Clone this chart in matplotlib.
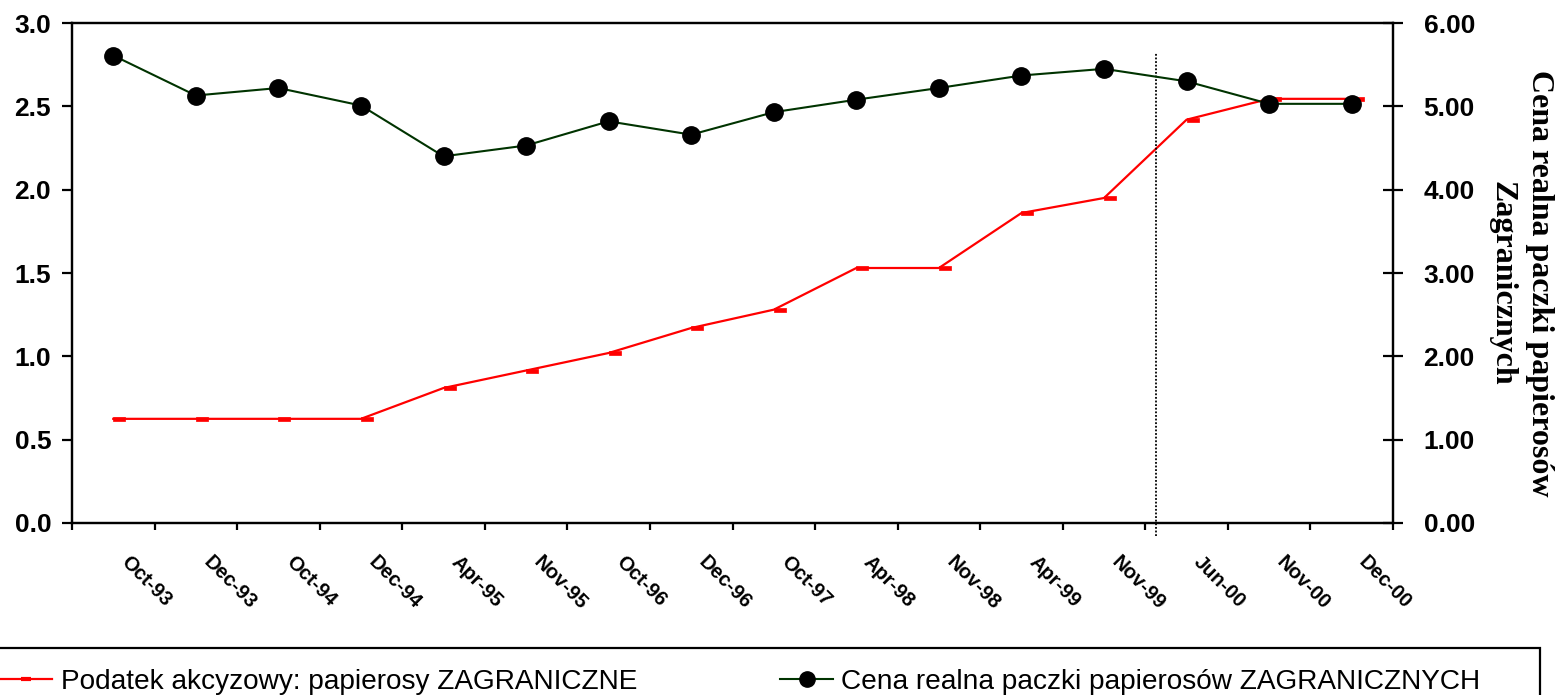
import matplotlib.pyplot as plt
from matplotlib.lines import Line2D
from matplotlib.patches import Rectangle
from matplotlib.path import Path
from matplotlib.transforms import ScaledTranslation

# daty (kategorie na osi X)
months = ['Oct-93', 'Dec-93', 'Oct-94', 'Dec-94', 'Apr-95', 'Nov-95', 'Oct-96', 'Dec-96',
          'Oct-97', 'Apr-98', 'Nov-98', 'Apr-99', 'Nov-99', 'Jun-00', 'Nov-00', 'Dec-00']

# podatek akcyzowy - lewa os
excise = [0.625, 0.625, 0.625, 0.625, 0.81, 0.915, 1.02, 1.17,
          1.28, 1.53, 1.53, 1.86, 1.95, 2.42, 2.545, 2.545]

# cena realna paczki - prawa os
price = [5.61, 5.13, 5.22, 5.01, 4.40, 4.53, 4.82, 4.66,
         4.93, 5.08, 5.22, 5.37, 5.45, 5.30, 5.03, 5.03]

left_ticks = [0.0, 0.5, 1.0, 1.5, 2.0, 2.5, 3.0]
right_ticks = [0, 1, 2, 3, 4, 5, 6]
break_pos = 12.63

label_1 = 'Podatek akcyzowy: papierosy ZAGRANICZNE'
label_2 = 'Cena realna paczki papierosów ZAGRANICZNYCH'
right_title = 'Cena realna paczki papierosów\nZagranicznych'

RED = '#ff0000'
GREEN = '#003300'
SANS = 'Liberation Sans'
SERIF = 'Liberation Serif'

# marker czerwony - kreska przesunieta w prawo od punktu
dash = Path([(0, -0.15), (1, -0.15), (1, 0.15), (0, 0.15), (0, -0.15)],
            [Path.MOVETO, Path.LINETO, Path.LINETO, Path.LINETO, Path.CLOSEPOLY])

fig = plt.figure(figsize=(15.62, 6.95), dpi=100)
ax = fig.add_axes([72 / 1562, 1 - 523 / 695, (1393 - 72) / 1562, 500 / 695])
ax2 = ax.twinx()

x = list(range(len(months)))
ax.plot(x, excise, color=RED, lw=1.6, marker=dash, markersize=17,
        markerfacecolor=RED, markeredgecolor=RED, markeredgewidth=0.5)
ax2.plot(x, price, color=GREEN, lw=1.5, marker='o', markersize=12.5,
         markerfacecolor='black', markeredgecolor='black')

ax.plot([break_pos, break_pos], [-0.075, 2.82], color='black', lw=1.3,
        ls=(0, (1, 1)), clip_on=False, zorder=5)

ax.set_xlim(-0.5, len(months) - 0.5)
ax.set_ylim(0, 3)
ax2.set_ylim(0, 6)

# osie
for a in (ax, ax2):
    for s in a.spines.values():
        s.set_linewidth(1.6)
        s.set_color('black')

ax.set_xticks([i - 0.5 for i in range(len(months) + 1)])
ax.set_xticklabels([])
ax.tick_params(axis='x', which='major', direction='out', length=5, width=1.6)
ax.set_xticks(x, minor=True)
ax.set_xticklabels(months, minor=True)
ax.tick_params(axis='x', which='minor', length=0, pad=21)
offset = ScaledTranslation(0.17, 0, fig.dpi_scale_trans)
for lab in ax.get_xticklabels(minor=True):
    lab.set_rotation(-45)
    lab.set_ha('left')
    lab.set_va('top')
    lab.set_rotation_mode('anchor')
    lab.set_fontfamily(SANS)
    lab.set_fontweight('bold')
    lab.set_fontsize(14.5)
    lab.set_transform(lab.get_transform() + offset)

ax.set_yticks(left_ticks)
ax.set_yticklabels(['%.1f' % v for v in left_ticks], fontfamily=SANS,
                   fontsize=19, fontweight='bold')
ax.tick_params(axis='y', direction='out', length=7, width=1.6, pad=8)

ax2.set_yticks(right_ticks)
ax2.set_yticklabels(['%.2f' % v for v in right_ticks], fontfamily=SANS,
                    fontsize=19, fontweight='bold')
ax2.tick_params(axis='y', direction='inout', length=14, width=1.6, pad=15)

fig.text(1521 / 1562, 1 - 283 / 695, right_title, rotation=270, ha='center',
         va='center', multialignment='center', fontfamily=SERIF,
         fontweight='bold', fontsize=23, linespacing=1.38)

# legenda
h1 = Line2D([], [], color=RED, lw=1.6, marker='_', markersize=7,
            markeredgewidth=3, markeredgecolor=RED)
h2 = Line2D([], [], color=GREEN, lw=1.5, marker='o', markersize=11,
            markerfacecolor='black', markeredgecolor='black')
fig.legend([h1, h2], [label_1, label_2], ncol=2, frameon=False,
           loc='center left', bbox_to_anchor=(0.0, 1 - 682 / 695),
           borderpad=0, borderaxespad=0, handlelength=1.87,
           handletextpad=0.3, columnspacing=5.1,
           prop={'family': SANS, 'size': 20.2})
fig.patches.append(Rectangle((-0.01, -0.05), 1540 / 1562 + 0.01, 0.05 + 47 / 695,
                             transform=fig.transFigure, fill=False,
                             edgecolor='black', lw=1.6))

plt.savefig('out.png', dpi=100)
